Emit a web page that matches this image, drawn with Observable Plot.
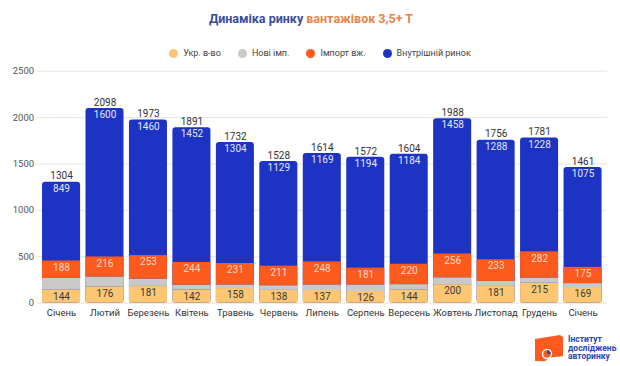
<!DOCTYPE html>
<html><head><meta charset="utf-8">
<script src="https://cdn.jsdelivr.net/npm/d3@7"></script>
<script src="https://cdn.jsdelivr.net/npm/@observablehq/plot@0.6"></script>
<style>
body{margin:0;background:#fff;font-family:Roboto,sans-serif;width:620px;height:366px;position:relative;overflow:hidden}
#title{position:absolute;top:11px;left:0;width:622px;text-align:center;font-weight:700;font-size:12.5px;letter-spacing:0}
#legend{position:absolute;top:48px;left:0;width:640px;display:flex;justify-content:center;gap:17px;font-size:9px;color:#444}
#legend .it{display:flex;align-items:center;gap:5px}
#legend .dot{width:9px;height:9px;border-radius:50%}
#chart{position:absolute;top:62px;left:0}
#logo{position:absolute;left:534px;top:334px;display:flex;align-items:center;gap:3px}
#logo .t{font-weight:700;font-size:8.5px;line-height:8.6px;color:#2d44b0}
</style></head><body>
<div id="title"><span style="color:#3a4c9c">Динаміка ринку</span> <span style="color:#e8854c">вантажівок 3,5+ Т</span></div>
<div id="legend"></div>
<div id="chart"></div>
<div id="logo">
<svg width="31" height="28" viewBox="0 0 31 28"><path d="M1,5 L26,1 L29,3 L29,22 L14,24 Q12,28 8,27 L1,27 Z" fill="#fe5a1d"/><circle cx="13" cy="20" r="5.2" fill="#fff"/><circle cx="13" cy="20" r="3.8" fill="#fe5a1d"/><path d="M13,20 L13,16.2 A3.8,3.8 0 0 1 16.8,20 Z" fill="#2d44b0"/></svg>
<div class="t">Інститут<br>досліджень<br>авторинку</div>
</div>
<script>
const months = ["Січень","Лютий","Березень","Квітень","Травень","Червень","Липень","Серпень","Вересень","Жовтень","Листопад","Грудень","Січень"];
const seriesNames = ["Укр. в-во","Нові імп.","Імпорт вж.","Внутрішній ринок"];
const colors = ["#fcc673","#c9c9c9","#fd5a1e","#1c33c4"];
const ukr = [144,176,181,142,158,138,137,126,144,200,181,215,169];
const newImp = [123,106,79,53,39,50,60,71,56,74,54,56,42];
const usedImp = [188,216,253,244,231,211,248,181,220,256,233,282,175];
const internal = [849,1600,1460,1452,1304,1129,1169,1194,1184,1458,1288,1228,1075];
const totals = [1304,2098,1973,1891,1732,1528,1614,1572,1604,1988,1756,1781,1461];
const yTicks = [0,500,1000,1500,2000,2500];

// legend
const lg = document.getElementById("legend");
seriesNames.forEach((s,k)=>{
  const it=document.createElement("div");it.className="it";
  it.innerHTML=`<span class="dot" style="background:${colors[k]}"></span><span>${s}</span>`;
  lg.appendChild(it);
});

const idx = d3.range(months.length);
const stackRows = [];
idx.forEach(i=>{
  stackRows.push({i, series:seriesNames[0], value:ukr[i]});
  stackRows.push({i, series:seriesNames[1], value:newImp[i]});
  stackRows.push({i, series:seriesNames[2], value:usedImp[i]});
});
const totalRows = idx.map(i=>({i, total:totals[i]}));
const ukrLab = idx.map(i=>({i, y:ukr[i], v:ukr[i]}));
const impLab = idx.map(i=>({i, y:ukr[i]+newImp[i]+usedImp[i], v:usedImp[i]}));
const intLab = idx.map(i=>({i, y:totals[i], v:internal[i]}));

const chart = Plot.plot({
  width:620, height:260,
  marginLeft:36.6, marginRight:13, marginTop:8.7, marginBottom:19.3,
  style:{fontFamily:"Roboto, sans-serif", background:"transparent"},
  x:{type:"band", domain:idx, padding:0.125, round:false, label:null},
  y:{domain:[0,2500], label:null},
  color:{domain:seriesNames, range:colors},
  marks:[
    Plot.gridY(yTicks,{stroke:"#e4e4e4", strokeOpacity:1}),
    Plot.axisY(yTicks,{tickSize:0, tickPadding:3, fill:"#555", fontSize:9.5, tickFormat:d=>String(d), label:null}),
    Plot.axisX(idx,{tickSize:0, tickPadding:6, fill:"#333", fontSize:9.5, tickFormat:i=>months[i], label:null}),
    Plot.barY(totalRows,{x:"i", y:"total", fill:colors[3], rx:3}),
    Plot.barY(stackRows,{x:"i", y:"value", fill:"series", order:seriesNames}),
    Plot.text(totalRows,{x:"i", y:"total", text:d=>String(d.total), dy:-6, fill:"#333", fontSize:10}),
    Plot.text(intLab,{x:"i", y:"y", text:d=>String(d.v), dy:6.5, fill:"#e4e7f6", fontSize:10}),
    Plot.text(impLab,{x:"i", y:"y", text:d=>String(d.v), dy:6.5, fill:"#fcd9c8", fontSize:10}),
    Plot.text(ukrLab,{x:"i", y:"y", text:d=>String(d.v), dy:6.5, fill:"#3a3a3a", fontSize:10})
  ]
});
document.getElementById("chart").appendChild(chart);
</script>
</body></html>
